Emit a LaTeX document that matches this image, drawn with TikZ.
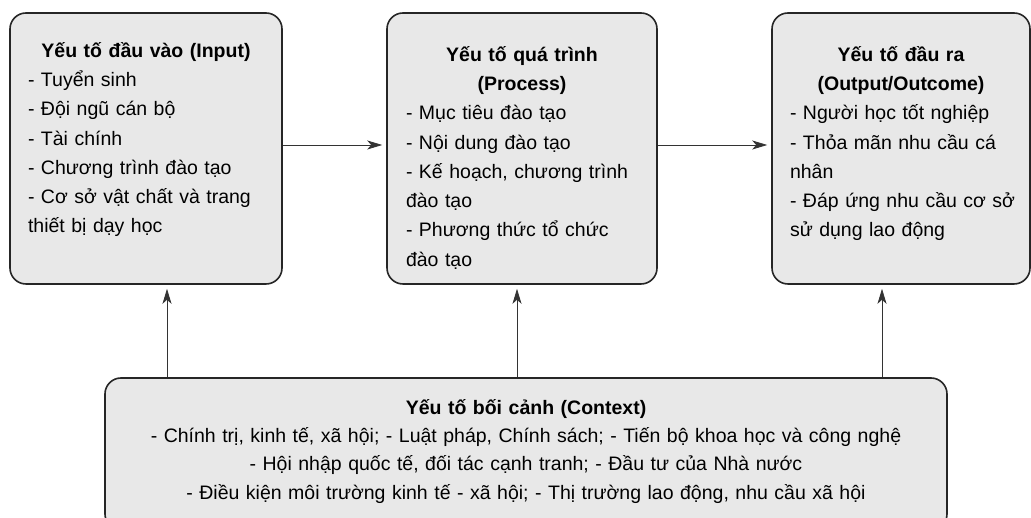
\documentclass[tikz,border=0pt]{standalone}
\usepackage{fontspec}
\setmainfont{Liberation Sans}
\usetikzlibrary{arrows.meta,positioning}

\begin{document}
\begin{tikzpicture}[x=1pt,y=1pt,
panel/.style={draw=black!85,line width=1.6pt,fill=black!9,rounded corners=16pt,
  minimum width=#1,minimum height=271pt,inner sep=0pt},
txt/.style={text width=#1,inner sep=0pt,anchor=base,font=\fontsize{19.5}{29.3}\selectfont},
arr/.style={draw=black!80,line width=0.8pt,-{Stealth[length=15pt,width=9pt,inset=4pt]},shorten >=4pt}]

\useasboundingbox (0,0) rectangle (1031,518);
\clip (0,0) rectangle (1031,518);

% the four boxes
\node[panel=272pt] (input) at (146,369.5) {};
\node[panel=270pt] (process) at (522,369.5) {};
\node[panel=258pt] (output) at (901,369.5) {};
\node[panel=842pt,minimum height=152pt] (context) at (526,64) {};

% texts
\node[txt=236pt] (inputtext) at ([yshift=-45pt]input.north)
{{\centering\bfseries Yếu tố đầu vào (Input)\par}\raggedright
- Tuyển sinh\\
- Đội ngũ cán bộ\\
- Tài chính\\
- Chương trình đào tạo\\
- Cơ sở vật chất và trang\\
thiết bị dạy học};

\node[txt=232pt] (processtext) at ([yshift=-49pt]process.north)
{{\centering\bfseries Yếu tố quá trình\\(Process)\par}\raggedright
- Mục tiêu đào tạo\\
- Nội dung đào tạo\\
- Kế hoạch, chương trình\\
đào tạo\\
- Phương thức tổ chức\\
đào tạo};

\node[txt=222pt] (outputtext) at ([yshift=-49pt]output.north)
{{\centering\bfseries Yếu tố đầu ra\\(Output/Outcome)\par}\raggedright
- Người học tốt nghiệp\\
- Thỏa mãn nhu cầu cá\\
nhân\\
\mbox{- Đáp ứng nhu cầu cơ sở}\\
sử dụng lao động};

\node[txt=820pt,align=center,font=\fontsize{19.5}{28.3}\selectfont] (contexttext) at ([yshift=-37pt]context.north)
{\textbf{Yếu tố bối cảnh (Context)}\\
- Chính trị, kinh tế, xã hội; - Luật pháp, Chính sách; - Tiến bộ khoa học và công nghệ\\
- Hội nhập quốc tế, đối tác cạnh tranh; - Đầu tư của Nhà nước\\
- Điều kiện môi trường kinh tế - xã hội; - Thị trường lao động, nhu cầu xã hội};

% arrows
\draw[arr] ([yshift=3.5pt]input.east) -- ([yshift=3.5pt]process.west);
\draw[arr] ([yshift=3.5pt]process.east) -- ([yshift=3.5pt]output.west);
\draw[arr] ([xshift=21pt]input.south |- context.north) -- ([xshift=21pt]input.south);
\draw[arr] ([xshift=-5pt]process.south |- context.north) -- ([xshift=-5pt]process.south);
\draw[arr] ([xshift=-19pt]output.south |- context.north) -- ([xshift=-19pt]output.south);
\end{tikzpicture}
\end{document}
